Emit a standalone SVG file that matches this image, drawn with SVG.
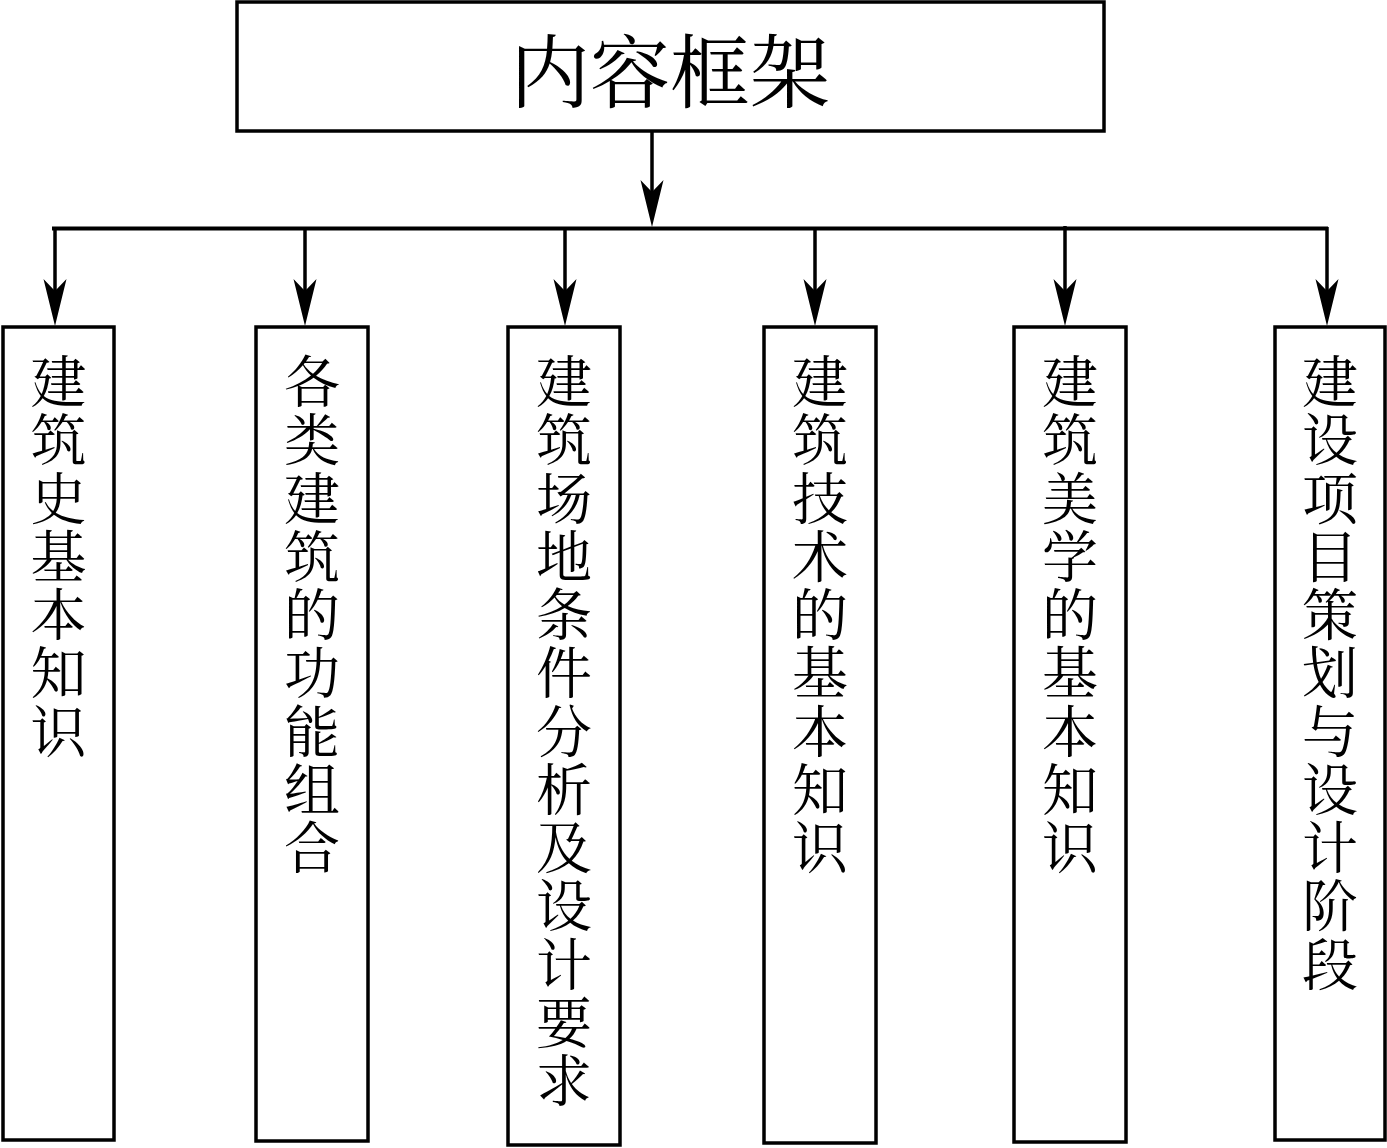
<svg xmlns="http://www.w3.org/2000/svg" width="1387" height="1148" viewBox="0 0 1387 1148">
<style>
.box{fill:#fff;stroke:#000;stroke-width:3.5}
.ln{fill:none;stroke:#000;stroke-width:3.5}
.ah{fill:#000;stroke:none}
.t{font-family:"Noto Serif CJK SC","Noto Sans CJK SC",serif;font-size:56px;fill:#000;text-anchor:middle;dominant-baseline:central}
.title{font-family:"Noto Serif CJK SC","Noto Sans CJK SC",serif;font-size:80px;fill:#000;text-anchor:middle;dominant-baseline:central}
</style>
<defs>
<path id="arr" class="ah" d="M0,0 L-11.5,-47 L0,-35 L11.5,-47 Z"/>
</defs>
<rect width="1387" height="1148" fill="#fff"/>
<g id="connectors">
<line class="ln" x1="652" y1="131" x2="652" y2="212"/>
<use href="#arr" x="652" y="227"/>
<line class="ln" x1="52" y1="228.5" x2="1328" y2="228.5" style="stroke-width:4"/>
<line class="ln" x1="55" y1="230" x2="55" y2="312"/>
<use href="#arr" x="55" y="326"/>
<line class="ln" x1="305" y1="230" x2="305" y2="312"/>
<use href="#arr" x="305" y="326"/>
<line class="ln" x1="565" y1="230" x2="565" y2="312"/>
<use href="#arr" x="565" y="326"/>
<line class="ln" x1="815" y1="230" x2="815" y2="312"/>
<use href="#arr" x="815" y="326"/>
<line class="ln" x1="1065" y1="226" x2="1065" y2="312"/>
<use href="#arr" x="1065" y="326"/>
<line class="ln" x1="1327" y1="227" x2="1327" y2="312"/>
<use href="#arr" x="1327" y="326"/>
</g>
<g id="n0">
<rect class="box" x="237" y="2" width="867" height="129"/>
<text class="title" x="670" y="66">内容框架</text>
</g>
<g id="n1">
<rect class="box" x="3" y="327" width="111" height="813"/>
<text class="t"><tspan x="58.5" y="378">建</tspan><tspan x="58.5" y="436.25">筑</tspan><tspan x="58.5" y="494.5">史</tspan><tspan x="58.5" y="552.75">基</tspan><tspan x="58.5" y="611">本</tspan><tspan x="58.5" y="669.25">知</tspan><tspan x="58.5" y="727.5">识</tspan></text>
</g>
<g id="n2">
<rect class="box" x="256" y="327" width="112" height="814"/>
<text class="t"><tspan x="312" y="378">各</tspan><tspan x="312" y="436.25">类</tspan><tspan x="312" y="494.5">建</tspan><tspan x="312" y="552.75">筑</tspan><tspan x="312" y="611">的</tspan><tspan x="312" y="669.25">功</tspan><tspan x="312" y="727.5">能</tspan><tspan x="312" y="785.75">组</tspan><tspan x="312" y="844">合</tspan></text>
</g>
<g id="n3">
<rect class="box" x="508" y="327" width="112" height="818"/>
<text class="t"><tspan x="564" y="378">建</tspan><tspan x="564" y="436.25">筑</tspan><tspan x="564" y="494.5">场</tspan><tspan x="564" y="552.75">地</tspan><tspan x="564" y="611">条</tspan><tspan x="564" y="669.25">件</tspan><tspan x="564" y="727.5">分</tspan><tspan x="564" y="785.75">析</tspan><tspan x="564" y="844">及</tspan><tspan x="564" y="902.25">设</tspan><tspan x="564" y="960.5">计</tspan><tspan x="564" y="1018.75">要</tspan><tspan x="564" y="1077">求</tspan></text>
</g>
<g id="n4">
<rect class="box" x="764" y="327" width="112" height="816"/>
<text class="t"><tspan x="820" y="378">建</tspan><tspan x="820" y="436.25">筑</tspan><tspan x="820" y="494.5">技</tspan><tspan x="820" y="552.75">术</tspan><tspan x="820" y="611">的</tspan><tspan x="820" y="669.25">基</tspan><tspan x="820" y="727.5">本</tspan><tspan x="820" y="785.75">知</tspan><tspan x="820" y="844">识</tspan></text>
</g>
<g id="n5">
<rect class="box" x="1014" y="327" width="112" height="815"/>
<text class="t"><tspan x="1070" y="378">建</tspan><tspan x="1070" y="436.25">筑</tspan><tspan x="1070" y="494.5">美</tspan><tspan x="1070" y="552.75">学</tspan><tspan x="1070" y="611">的</tspan><tspan x="1070" y="669.25">基</tspan><tspan x="1070" y="727.5">本</tspan><tspan x="1070" y="785.75">知</tspan><tspan x="1070" y="844">识</tspan></text>
</g>
<g id="n6">
<rect class="box" x="1275" y="327" width="110" height="813"/>
<text class="t"><tspan x="1330" y="378">建</tspan><tspan x="1330" y="436.25">设</tspan><tspan x="1330" y="494.5">项</tspan><tspan x="1330" y="552.75">目</tspan><tspan x="1330" y="611">策</tspan><tspan x="1330" y="669.25">划</tspan><tspan x="1330" y="727.5">与</tspan><tspan x="1330" y="785.75">设</tspan><tspan x="1330" y="844">计</tspan><tspan x="1330" y="902.25">阶</tspan><tspan x="1330" y="960.5">段</tspan></text>
</g>
</svg>
